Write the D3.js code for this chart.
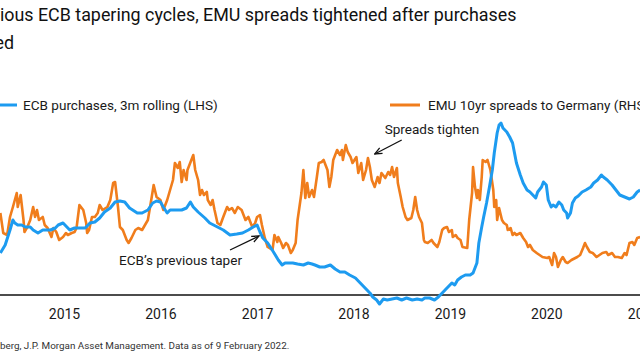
<!DOCTYPE html>
<html><head><meta charset="utf-8">
<script src="https://cdn.jsdelivr.net/npm/d3@7"></script>
<style>
html,body{margin:0;padding:0;background:#fff;overflow:hidden}
svg{display:block;font-family:Roboto,"Noto Sans",sans-serif}
</style></head><body>
<svg id="chart" width="640" height="360"></svg>
<script>
// ---------- data ----------
const titleLines = ["In previous ECB tapering cycles, EMU spreads tightened after purchases", "peaked"];
const sourceText = "Source: Bloomberg, J.P. Morgan Asset Management. Data as of 9 February 2022.";
const seriesNames = ["ECB purchases, 3m rolling (LHS)", "EMU 10yr spreads to Germany (RHS)"];
const seriesColors = ["#1d9bf0", "#f07d1c"];
const yearTicks = [2015, 2016, 2017, 2018, 2019, 2020, 2021];

// ECB purchases, 3m rolling (EUR bn) – decimal-year dates
const ecbT = [2014.34,2014.39,2014.44,2014.47,2014.49,2014.52,2014.56,2014.60,2014.65,2014.68,
2014.73,2014.78,2014.86,2014.91,2014.94,2014.99,2015.03,2015.06,2015.11,2015.17,
2015.22,2015.27,2015.32,2015.37,2015.42,2015.48,2015.53,2015.58,2015.63,2015.68,
2015.76,2015.81,2015.87,2015.92,2015.96,2016.00,2016.03,2016.07,2016.10,2016.15,
2016.22,2016.27,2016.31,2016.34,2016.39,2016.46,2016.51,2016.59,2016.65,2016.72,
2016.79,2016.85,2016.91,2016.96,2017.00,2017.03,2017.06,2017.11,2017.17,2017.22,
2017.26,2017.29,2017.32,2017.37,2017.42,2017.48,2017.53,2017.57,2017.60,2017.65,
2017.70,2017.76,2017.81,2017.86,2017.91,2017.96,2018.02,2018.07,2018.12,2018.17,
2018.20,2018.24,2018.27,2018.31,2018.35,2018.40,2018.45,2018.50,2018.55,2018.61,
2018.66,2018.71,2018.74,2018.79,2018.84,2018.88,2018.92,2018.95,2018.98,2019.02,
2019.05,2019.08,2019.12,2019.16,2019.21,2019.24,2019.28,2019.30,2019.33,2019.35,
2019.38,2019.41,2019.44,2019.46,2019.49,2019.51,2019.53,2019.55,2019.59,2019.62,
2019.65,2019.67,2019.69,2019.73,2019.76,2019.80,2019.83,2019.86,2019.89,2019.91,
2019.95,2019.97,2020.00,2020.02,2020.05,2020.07,2020.10,2020.13,2020.16,2020.18,
2020.21,2020.22,2020.25,2020.27,2020.30,2020.33,2020.37,2020.41,2020.46,2020.49,
2020.53,2020.57,2020.59,2020.63,2020.68,2020.72,2020.76,2020.81,2020.86,2020.90,
2020.94,2020.97];
const ecbV = [42,50,65,75,72,70,70,68,68,65,
62,65,65,67,70,72,68,65,67,67,
67,72,73,77,83,87,93,94,93,87,
82,82,85,92,94,93,88,82,85,85,
85,87,93,88,83,77,72,68,65,60,
61,62,65,68,70,63,57,52,43,35,
30,32,32,32,31,30,32,31,30,28,
28,30,26,23,23,20,17,12,7,2,
-2,-5,-9,-4,-5,-4,-3,-5,-3,-5,
-4,-5,-3,-3,-5,-2,2,5,8,12,
10,15,18,20,20,22,32,52,68,78,
92,108,125,142,162,170,172,167,163,158,
152,142,132,120,112,105,103,100,97,103,
108,113,110,95,88,90,88,93,90,85,
82,77,82,92,97,99,103,105,108,112,
115,120,118,115,110,105,100,98,96,98,
103,105];

// EMU 10yr spreads to Germany (bp) – decimal-year dates
const sprT = [2014.34,2014.37,2014.41,2014.44,2014.47,2014.51,2014.52,2014.55,2014.58,2014.59,
2014.62,2014.65,2014.68,2014.70,2014.72,2014.74,2014.78,2014.80,2014.83,2014.87,
2014.89,2014.92,2014.95,2014.99,2015.02,2015.04,2015.08,2015.11,2015.13,2015.16,
2015.20,2015.23,2015.24,2015.26,2015.29,2015.32,2015.35,2015.37,2015.40,2015.45,
2015.48,2015.51,2015.53,2015.56,2015.58,2015.61,2015.65,2015.67,2015.70,2015.74,
2015.77,2015.81,2015.84,2015.87,2015.91,2015.93,2015.96,2016.00,2016.03,2016.07,
2016.10,2016.13,2016.15,2016.18,2016.20,2016.22,2016.24,2016.27,2016.28,2016.32,
2016.34,2016.36,2016.39,2016.41,2016.43,2016.45,2016.48,2016.49,2016.52,2016.54,
2016.56,2016.59,2016.62,2016.65,2016.69,2016.71,2016.74,2016.77,2016.80,2016.84,
2016.88,2016.91,2016.95,2016.98,2017.00,2017.03,2017.05,2017.08,2017.11,2017.16,
2017.18,2017.21,2017.22,2017.25,2017.27,2017.30,2017.32,2017.35,2017.37,2017.40,
2017.42,2017.46,2017.48,2017.50,2017.52,2017.54,2017.57,2017.59,2017.62,2017.64,
2017.67,2017.69,2017.73,2017.75,2017.77,2017.79,2017.83,2017.86,2017.88,2017.89,
2017.92,2017.94,2017.97,2017.99,2018.03,2018.05,2018.08,2018.10,2018.13,2018.15,
2018.17,2018.19,2018.22,2018.25,2018.27,2018.29,2018.33,2018.36,2018.38,2018.40,
2018.42,2018.45,2018.46,2018.49,2018.51,2018.54,2018.56,2018.60,2018.62,2018.64,
2018.66,2018.68,2018.71,2018.73,2018.74,2018.77,2018.81,2018.83,2018.87,2018.89,
2018.92,2018.94,2018.97,2018.99,2019.02,2019.03,2019.06,2019.08,2019.11,2019.13,
2019.18,2019.20,2019.23,2019.24,2019.26,2019.28,2019.29,2019.31,2019.33,2019.34,
2019.37,2019.39,2019.42,2019.45,2019.46,2019.48,2019.49,2019.51,2019.54,2019.56,
2019.59,2019.60,2019.63,2019.65,2019.67,2019.69,2019.73,2019.76,2019.79,2019.81,
2019.83,2019.86,2019.90,2019.93,2019.96,2020.01,2020.03,2020.06,2020.08,2020.10,
2020.12,2020.15,2020.17,2020.20,2020.22,2020.26,2020.30,2020.32,2020.35,2020.38,
2020.40,2020.42,2020.45,2020.48,2020.52,2020.55,2020.58,2020.62,2020.64,2020.68,
2020.71,2020.74,2020.78,2020.81,2020.83,2020.86,2020.89,2020.91,2020.94,2020.97];
const sprV = [97,77,75,93,103,117,103,115,90,78,
83,90,103,93,100,90,93,85,82,73,
82,78,70,73,77,75,77,78,82,105,
100,87,77,80,93,93,97,105,100,103,
110,127,128,103,83,80,70,67,72,80,
82,80,85,90,113,125,113,110,100,110,
120,130,147,142,148,128,140,130,140,150,
155,140,130,115,120,115,118,110,105,110,
100,87,85,93,103,100,102,97,103,100,
90,93,83,87,93,95,85,72,63,60,
75,68,73,67,62,67,65,57,60,67,
90,117,140,112,127,113,120,113,133,147,
148,150,140,123,133,150,160,155,160,150,
165,158,153,147,153,137,147,130,140,152,
143,130,123,133,127,137,132,138,135,143,
133,142,127,113,103,93,90,92,100,113,
100,93,87,70,68,67,70,67,63,68,
80,82,83,78,80,73,75,72,70,63,
62,90,117,143,123,112,120,110,133,150,
148,150,140,120,103,110,90,102,90,87,
85,80,82,75,77,75,77,72,68,63,
65,60,57,55,53,52,53,45,57,53,
43,50,53,48,47,50,52,53,55,62,
67,63,58,57,53,55,57,58,55,57,
53,53,52,57,55,67,68,65,72,73];

// annotations anchored in data space
const annotations = [
  {text: "Spreads tighten", t: 2018.22, v: 156, axis: "right", dx: 27, dy: -14, tx: 10, ty: -20, anchor: "start"},
  {text: "ECB\u2019s previous taper", t: 2017.02, v: 59, axis: "left", dx: -29, dy: 14, tx: -17, ty: 29, anchor: "end"}
];

// ---------- helpers ----------
function yrToDate(y) {
  const Y = Math.floor(y);
  const s = new Date(Y, 0, 1), e = new Date(Y + 1, 0, 1);
  return new Date(+s + (y - Y) * (e - s));
}

// ---------- layout ----------
const W = 640, H = 360;
const baseY = 295;
const svg = d3.select("#chart");
const ink = "#1a1a1a";

const x = d3.scaleTime()
  .domain([new Date(2015, 0, 1), new Date(2021, 0, 1)])
  .range([64, 643]);
const yL = d3.scaleLinear().domain([0, 200]).range([baseY, baseY - 200]);
const yR = d3.scaleLinear().domain([0, 200]).range([310, 110]);

// fit a clipped text so that its visible part spans a target width
function fitClipped(sel, full, visIdx, xStart, targetW, baseSize) {
  sel.text(full).attr("font-size", baseSize).attr("x", 0);
  const n = sel.node();
  const pre = n.getSubStringLength(0, visIdx);
  const vis = n.getSubStringLength(visIdx, full.length - visIdx);
  const k = targetW / vis;
  sel.attr("font-size", baseSize * k).attr("x", xStart - pre * k);
  return baseSize * k;
}

// title
const t1 = svg.append("text").attr("y", 21).attr("fill", "#111");
const titleSize = fitClipped(t1, titleLines[0], titleLines[0].indexOf("ious"), 0, 517, 20);
svg.append("text").attr("x", 14).attr("y", 49).attr("text-anchor", "end")
  .attr("font-size", titleSize).attr("fill", "#111").text(titleLines[1]);

// legend
const lg1 = svg.append("text").attr("y", 110).attr("fill", ink);
const legSize = fitClipped(lg1, seriesNames[0], 0, 23, 195, 13);
svg.insert("line", "text").attr("x1", -13).attr("x2", 17).attr("y1", 105).attr("y2", 105)
  .attr("stroke", seriesColors[0]).attr("stroke-width", 3);
svg.append("line").attr("x1", 390).attr("x2", 420).attr("y1", 105).attr("y2", 105)
  .attr("stroke", seriesColors[1]).attr("stroke-width", 3);
svg.append("text").attr("x", 428).attr("y", 110).attr("font-size", legSize)
  .attr("fill", ink).text(seriesNames[1]);

// baseline + axis
svg.append("line")
  .attr("x1", x(yrToDate(2014.0))).attr("x2", x(yrToDate(2021.5)))
  .attr("y1", yL(0)).attr("y2", yL(0))
  .attr("stroke", "#111").attr("stroke-width", 1.6);

const axis = svg.append("g").attr("transform", `translate(0,${baseY})`)
  .call(d3.axisBottom(x)
    .tickValues(yearTicks.map(y => new Date(y, 0, 1)))
    .tickFormat(d3.timeFormat("%Y"))
    .tickSize(0).tickPadding(14));
axis.select(".domain").remove();
axis.selectAll("text").attr("font-size", 14).attr("fill", ink)
  .attr("font-family", "Roboto, 'Noto Sans', sans-serif");

// series
const spreadData = sprT.map((t, i) => ({d: yrToDate(t), v: sprV[i]}));
const ecbData = ecbT.map((t, i) => ({d: yrToDate(t), v: ecbV[i]}));

svg.append("path").datum(spreadData)
  .attr("fill", "none").attr("stroke", seriesColors[1]).attr("stroke-width", 2.6)
  .attr("stroke-linejoin", "round")
  .attr("d", d3.line().x(d => x(d.d)).y(d => yR(d.v)));

svg.append("path").datum(ecbData)
  .attr("fill", "none").attr("stroke", seriesColors[0]).attr("stroke-width", 3)
  .attr("stroke-linejoin", "round")
  .attr("d", d3.line().x(d => x(d.d)).y(d => yL(d.v)));

// arrow marker
svg.append("defs").append("marker")
  .attr("id", "arr").attr("viewBox", "0 0 10 10").attr("refX", 9).attr("refY", 5)
  .attr("markerWidth", 9).attr("markerHeight", 9).attr("markerUnits", "userSpaceOnUse")
  .attr("orient", "auto")
  .append("path").attr("d", "M1,1.5 L9,5 L1,8.5").attr("fill", "none")
  .attr("stroke", "#111").attr("stroke-width", 1.4);

annotations.forEach(a => {
  const px = x(yrToDate(a.t));
  const py = (a.axis === "left" ? yL : yR)(a.v);
  svg.append("line").attr("x1", px + a.dx).attr("y1", py + a.dy).attr("x2", px).attr("y2", py)
    .attr("stroke", "#111").attr("stroke-width", 1.3).attr("marker-end", "url(#arr)");
  svg.append("text").attr("x", px + a.tx).attr("y", py + a.ty).attr("text-anchor", a.anchor)
    .attr("font-size", legSize).attr("fill", ink).text(a.text);
});

// source
const src = svg.append("text").attr("y", 349).attr("fill", "#333");
fitClipped(src, sourceText, sourceText.indexOf("berg"), 0, 290, 10.5);
</script>
</body></html>
